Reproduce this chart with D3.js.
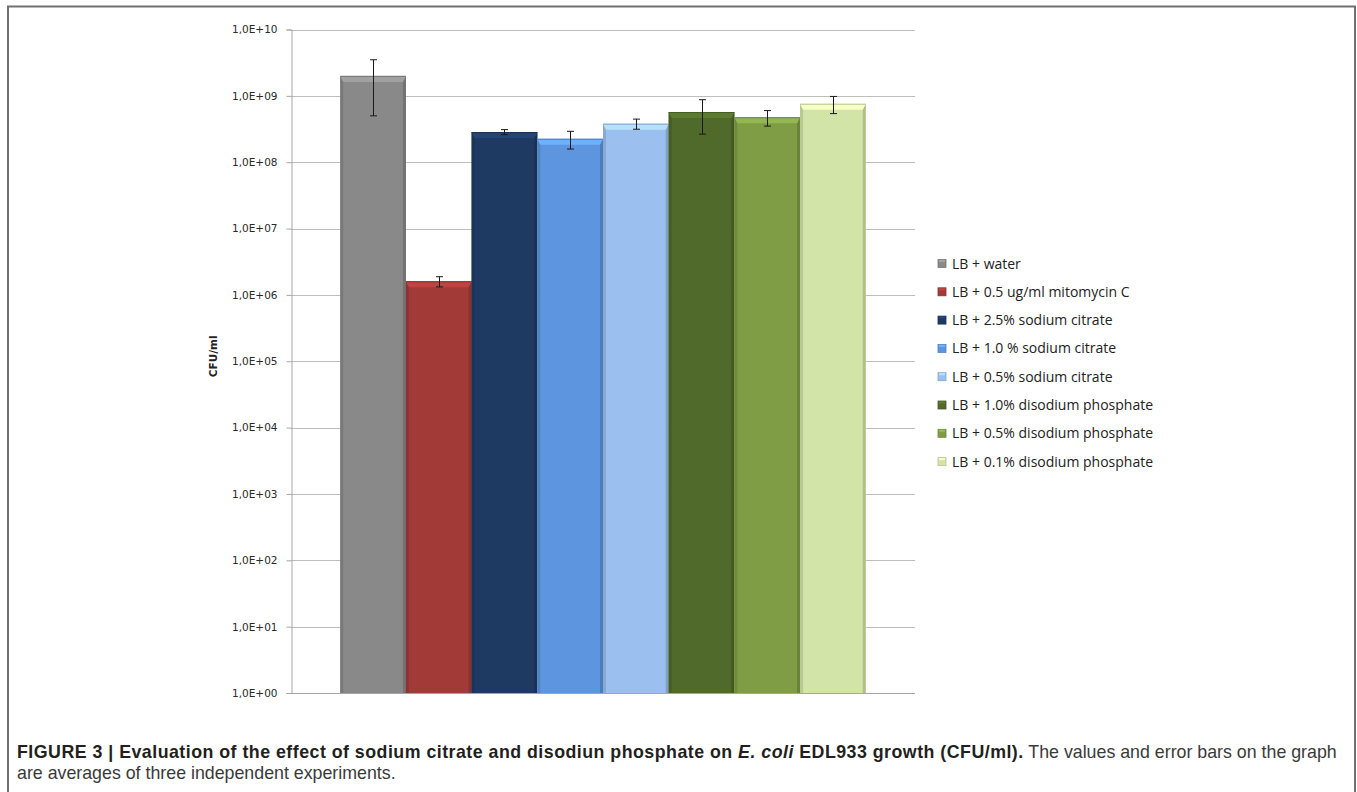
<!DOCTYPE html>
<html>
<head>
<meta charset="utf-8">
<script src="https://cdn.jsdelivr.net/npm/d3@7"></script>
<style>
  html, body { margin: 0; padding: 0; background: #fff; }
  svg { display: block; }
</style>
</head>
<body>
<svg id="fig" width="1357" height="792"></svg>
<script>
// Treatments (one bar each), mean CFU/ml and error (± one SD, linear units)
const categories = [
  "LB + water",
  "LB + 0.5 ug/ml mitomycin C",
  "LB + 2.5% sodium citrate",
  "LB + 1.0 % sodium citrate",
  "LB + 0.5% sodium citrate",
  "LB + 1.0% disodium phosphate",
  "LB + 0.5% disodium phosphate",
  "LB + 0.1% disodium phosphate"
];
const means  = [2.0e9, 1.6e6, 2.85e8, 2.25e8, 3.8e8, 5.7e8, 4.75e8, 7.6e8];
const errors = [1.5e9, 0.28e6, 0.25e8, 0.67e8, 0.66e8, 3.05e8, 1.25e8, 2.2e8];
const colors = ["#898989", "#a23a38", "#1f3a62", "#5d96de", "#9bbfee", "#4f6a2a", "#7e9d44", "#d2e4a7"];

const tickValues = [1e0, 1e1, 1e2, 1e3, 1e4, 1e5, 1e6, 1e7, 1e8, 1e9, 1e10];
const tickLabels = ["1,0E+00", "1,0E+01", "1,0E+02", "1,0E+03", "1,0E+04", "1,0E+05",
                    "1,0E+06", "1,0E+07", "1,0E+08", "1,0E+09", "1,0E+10"];

const svg = d3.select("#fig");

// figure frame
svg.append("rect")
  .attr("x", 8).attr("y", 6.5)
  .attr("width", 1347).attr("height", 820)
  .attr("fill", "none").attr("stroke", "#707070").attr("stroke-width", 2);

const plot = { left: 291, right: 915, top: 29.5, bottom: 693 };

const y = d3.scaleLog().domain([1, 1e10]).range([plot.bottom, plot.top]);
const x = d3.scaleBand().domain(categories)
  .range([plot.left, plot.right])
  .paddingInner(0).paddingOuter(0.75);

// gridlines
svg.append("g")
  .selectAll("line").data(tickValues.slice(1)).join("line")
  .attr("x1", plot.left).attr("x2", plot.right)
  .attr("y1", d => Math.round(y(d)) + 0.5).attr("y2", d => Math.round(y(d)) + 0.5)
  .attr("stroke", "#bdbdbd").attr("stroke-width", 1);

// y axis
const axisFmt = d => tickLabels[tickValues.indexOf(d)];
const yAxis = svg.append("g")
  .attr("transform", `translate(${plot.left + 0.5},0)`)
  .call(d3.axisLeft(y).tickValues(tickValues).tickFormat(axisFmt).tickSize(5).tickPadding(9));
yAxis.select(".domain").attr("stroke", "#a6a6a6");
yAxis.selectAll(".tick line").attr("stroke", "#a6a6a6");
yAxis.selectAll(".tick text")
  .attr("font-family", "DejaVu Sans").attr("font-size", 10.5).attr("fill", "#2a2a2a");

// x axis baseline
svg.append("line")
  .attr("x1", plot.left).attr("x2", plot.right)
  .attr("y1", plot.bottom + 0.5).attr("y2", plot.bottom + 0.5)
  .attr("stroke", "#a6a6a6");

// y axis title
svg.append("text")
  .attr("transform", `translate(217,${(plot.top + plot.bottom) / 2 - 5}) rotate(-90)`)
  .attr("text-anchor", "middle")
  .attr("font-family", "DejaVu Sans").attr("font-weight", "bold").attr("font-size", 10.5)
  .attr("fill", "#222")
  .text("CFU/ml");

// bevelled bars
const bars = svg.append("g").selectAll("g").data(categories).join("g");
bars.each(function (c, i) {
  const g = d3.select(this);
  const x0 = x(c), w = x.bandwidth();
  const yt = y(means[i]), yb = y(1);
  const base = d3.color(colors[i]);
  g.append("rect").attr("x", x0).attr("y", yt).attr("width", w).attr("height", yb - yt)
    .attr("fill", base.formatHex());
  const e = 3, t = 6;
  // side edges
  g.append("path")
    .attr("d", `M${x0},${yt} L${x0 + e},${yt + t} L${x0 + e},${yb} L${x0},${yb} Z`)
    .attr("fill", base.darker(0.35).formatHex());
  g.append("path")
    .attr("d", `M${x0 + w},${yt} L${x0 + w - e},${yt + t} L${x0 + w - e},${yb} L${x0 + w},${yb} Z`)
    .attr("fill", base.darker(0.5).formatHex());
  // top bevel
  g.append("path")
    .attr("d", `M${x0},${yt} L${x0 + w},${yt} L${x0 + w - e},${yt + t} L${x0 + e},${yt + t} Z`)
    .attr("fill", base.brighter(0.45).formatHex());
  g.append("line")
    .attr("x1", x0).attr("x2", x0 + w).attr("y1", yt + 0.5).attr("y2", yt + 0.5)
    .attr("stroke", base.darker(0.4).formatHex()).attr("stroke-width", 1);
});

// error bars
const eb = svg.append("g").attr("stroke", "#1a1a1a").attr("stroke-width", 1);
categories.forEach((c, i) => {
  const cx = Math.round(x(c) + x.bandwidth() / 2) + 0.5;
  const hi = y(means[i] + errors[i]), lo = y(means[i] - errors[i]);
  eb.append("line").attr("x1", cx).attr("x2", cx).attr("y1", hi).attr("y2", lo);
  eb.append("line").attr("x1", cx - 3.5).attr("x2", cx + 3.5).attr("y1", hi).attr("y2", hi);
  eb.append("line").attr("x1", cx - 3.5).attr("x2", cx + 3.5).attr("y1", lo).attr("y2", lo);
});

// legend
const legend = svg.append("g").attr("transform", "translate(938,263.5)");
const rows = legend.selectAll("g").data(categories).join("g")
  .attr("transform", (d, i) => `translate(0,${i * 28.3})`);
rows.append("rect").attr("x", 0).attr("y", -4).attr("width", 8).attr("height", 8)
  .attr("fill", (d, i) => colors[i])
  .attr("stroke", (d, i) => d3.color(colors[i]).darker(0.4).formatHex()).attr("stroke-width", 0.8);
rows.append("rect").attr("x", 1).attr("y", -3.5).attr("width", 6).attr("height", 2)
  .attr("fill", (d, i) => d3.color(colors[i]).brighter(0.5).formatHex());
rows.append("text")
  .attr("x", 14).attr("dy", "0.36em")
  .attr("font-family", "Open Sans").attr("font-size", 14).attr("fill", "#222")
  .text(d => d);

// caption
const cap = svg.append("text")
  .attr("font-family", "Liberation Sans").attr("font-size", 17.8).attr("fill", "#231f20");
const l1 = cap.append("tspan").attr("x", 17).attr("y", 758);
l1.append("tspan").attr("font-weight", "bold").attr("letter-spacing", 0.48)
  .text("FIGURE 3 | Evaluation of the effect of sodium citrate and disodiun phosphate on ");
l1.append("tspan").attr("font-weight", "bold").attr("font-style", "italic").attr("letter-spacing", 0.48)
  .text("E. coli");
l1.append("tspan").attr("font-weight", "bold").attr("letter-spacing", 0.48)
  .text(" EDL933 growth (CFU/ml).");
l1.append("tspan").attr("fill", "#3a3a3a").attr("letter-spacing", 0).text(" The values and error bars on the graph");
cap.append("tspan").attr("x", 17).attr("y", 779).attr("fill", "#3a3a3a")
  .text("are averages of three independent experiments.");
</script>
</body>
</html>
